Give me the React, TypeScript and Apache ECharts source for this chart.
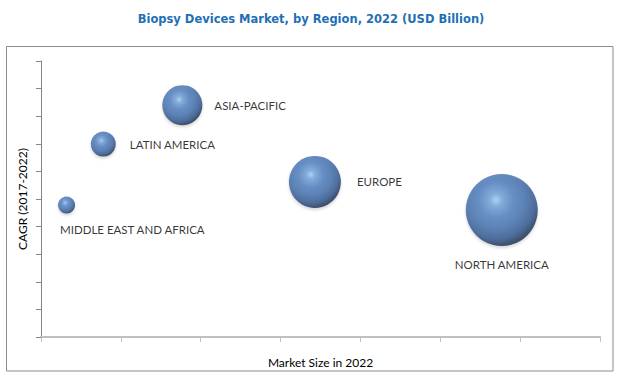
import React, { useEffect, useRef } from "react";
import * as echarts from "echarts";

const regions = ["MIDDLE EAST AND AFRICA", "LATIN AMERICA", "ASIA-PACIFIC", "EUROPE", "NORTH AMERICA"];
const marketSize = [0.32, 0.78, 1.77, 3.43, 5.77];
const cagr = [4.78, 6.99, 8.4, 5.62, 4.6];
const bubbleValue = [0.85, 1.25, 2.0, 2.6, 3.6];

const titleText = "Biopsy Devices Market, by Region, 2022 (USD Billion)";
const xAxisName = "Market Size in 2022";
const yAxisName = "CAGR (2017-2022)";

const labelCfg: any[] = [
  { position: [2, 33], align: "left", verticalAlign: "middle" },
  { position: "right", distance: 14 },
  { position: "right", distance: 12 },
  { position: "right", distance: 16 },
  { position: "bottom", distance: 12 },
];

const sphere = {
  type: "radial",
  x: 0.42,
  y: 0.36,
  r: 0.68,
  colorStops: [
    { offset: 0, color: "#a4caf2" },
    { offset: 0.12, color: "#6e9fd8" },
    { offset: 0.35, color: "#4a7bbb" },
    { offset: 0.6, color: "#3b69a8" },
    { offset: 0.8, color: "#2b5088" },
    { offset: 1, color: "#0f1f38" },
  ],
};

export default function App() {
  const ref = useRef<HTMLDivElement>(null);
  useEffect(() => {
    const chart = echarts.init(ref.current!, undefined, { renderer: "svg" });
    const data = regions.map((name, i) => ({
      name,
      value: [marketSize[i], cagr[i], bubbleValue[i]],
      symbolSize: bubbleValue[i] * 20,
      label: {
        show: true,
        formatter: name,
        color: "#000",
        fontFamily: "Lato",
        fontSize: 11.5,
        ...labelCfg[i],
      },
    }));
    chart.setOption({
      animation: false,
      backgroundColor: "#fff",
      title: {
        text: titleText,
        left: 306,
        top: 8,
        textAlign: "center",
        textStyle: {
          color: "#1f6fb5",
          fontFamily: "DejaVu Sans",
          fontWeight: "bold",
          fontSize: 11.5,
        },
      },
      graphic: [
        {
          type: "rect",
          shape: { x: 6.5, y: 46.5, width: 606.5, height: 324.5 },
          style: { fill: "none", stroke: "#8c8c8c", lineWidth: 1 },
          z: -1,
        },
      ],
      grid: { left: 41, right: 20, top: 61, bottom: 44 },
      xAxis: {
        type: "value",
        min: 0,
        max: 7,
        interval: 1,
        name: xAxisName,
        nameLocation: "middle",
        nameGap: 19,
        nameTextStyle: { color: "#000", fontFamily: "Lato", fontSize: 12 },
        axisLine: { show: true, lineStyle: { color: "#bfbfbf", width: 2 } },
        axisTick: { show: true, length: 5, lineStyle: { color: "#bfbfbf" } },
        axisLabel: { show: false },
        splitLine: { show: false },
      },
      yAxis: {
        type: "value",
        min: 0,
        max: 10,
        interval: 1,
        name: yAxisName,
        nameLocation: "middle",
        nameGap: 13,
        nameTextStyle: { color: "#000", fontFamily: "Lato", fontSize: 12 },
        axisLine: { show: true, lineStyle: { color: "#868686", width: 1 } },
        axisTick: { show: true, length: 5, lineStyle: { color: "#868686" } },
        axisLabel: { show: false },
        splitLine: { show: false },
      },
      series: [
        {
          type: "scatter",
          data,
          itemStyle: {
            color: sphere,
            shadowBlur: 3,
            shadowColor: "rgba(0,0,0,0.2)",
            shadowOffsetY: 2,
          },
        },
      ],
    });
    return () => chart.dispose();
  }, []);
  return (
    <div
      ref={ref}
      style={{ position: "fixed", left: 0, top: 0, width: 620, height: 381 }}
    />
  );
}
